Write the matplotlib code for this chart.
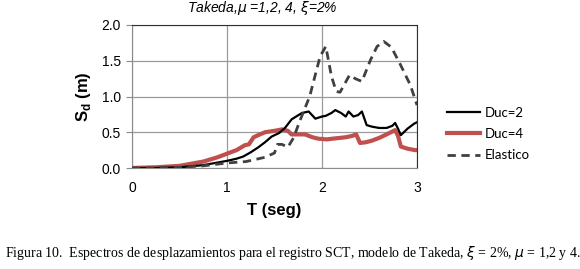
import matplotlib
matplotlib.use("Agg")
import matplotlib.pyplot as plt

# Data
t_el = [0, 0.25, 0.5, 0.75, 1.0, 1.2, 1.4, 1.5, 1.53, 1.58, 1.64, 1.7, 1.77, 1.87, 1.98, 2.04, 2.10, 2.15, 2.19, 2.24, 2.29, 2.35, 2.42, 2.51, 2.58, 2.65, 2.73, 2.82, 2.93, 3.0]
v_el = [0, 0.0, 0.01, 0.03, 0.07, 0.09, 0.15, 0.21, 0.33, 0.33, 0.29, 0.42, 0.67, 1.0, 1.56, 1.70, 1.28, 1.07, 1.06, 1.18, 1.30, 1.25, 1.21, 1.51, 1.70, 1.77, 1.69, 1.46, 1.16, 0.88]

t_d2 = [0, 0.25, 0.5, 0.75, 1.0, 1.1, 1.17, 1.25, 1.33, 1.4, 1.47, 1.55, 1.61, 1.68, 1.74, 1.79, 1.86, 1.93, 2.0, 2.04, 2.1, 2.14, 2.2, 2.25, 2.28, 2.33, 2.38, 2.42, 2.47, 2.52, 2.6, 2.68, 2.74, 2.77, 2.8, 2.83, 2.9, 2.97, 3.0]
v_d2 = [0, 0, 0.01, 0.04, 0.1, 0.13, 0.16, 0.22, 0.29, 0.36, 0.44, 0.49, 0.56, 0.68, 0.73, 0.77, 0.79, 0.69, 0.72, 0.73, 0.77, 0.81, 0.77, 0.72, 0.79, 0.72, 0.74, 0.79, 0.60, 0.58, 0.56, 0.56, 0.59, 0.63, 0.55, 0.46, 0.55, 0.62, 0.64]

t_d4 = [0, 0.25, 0.5, 0.75, 0.9, 1.0, 1.1, 1.19, 1.23, 1.28, 1.33, 1.40, 1.5, 1.58, 1.64, 1.68, 1.75, 1.82, 1.9, 1.96, 2.05, 2.11, 2.18, 2.25, 2.32, 2.36, 2.40, 2.46, 2.52, 2.6, 2.68, 2.74, 2.77, 2.8, 2.83, 2.9, 2.98, 3.0]
v_d4 = [0, 0.01, 0.03, 0.09, 0.15, 0.2, 0.25, 0.32, 0.33, 0.43, 0.46, 0.5, 0.52, 0.54, 0.52, 0.47, 0.47, 0.47, 0.43, 0.41, 0.40, 0.41, 0.42, 0.43, 0.45, 0.47, 0.35, 0.36, 0.38, 0.42, 0.47, 0.51, 0.53, 0.45, 0.30, 0.27, 0.25, 0.25]

xticks = [0, 1, 2, 3]
yticks = [0.0, 0.5, 1.0, 1.5, 2.0]

fig = plt.figure(figsize=(5.8, 2.69), dpi=100)
ax = fig.add_axes([132/580, 1-168/269, 285/580, 143/269])

ax.plot(t_d2, v_d2, color="black", lw=1.6, label="Duc=2", zorder=3)
ax.plot(t_d4, v_d4, color="#C0504D", lw=3.0, label="Duc=4", zorder=2)
ax.plot(t_el, v_el, color="#404040", lw=2.0, ls=(0, (3, 2)), label="Elastico", zorder=4)

ax.set_xlim(0, 3)
ax.set_ylim(0, 2)
ax.set_xticks(xticks)
ax.set_yticks(yticks)
ax.set_yticklabels([f"{v:.1f}" for v in yticks])
ax.grid(True, color="#9a9a9a", lw=0.9)
ax.set_axisbelow(True)
for s in ["left", "bottom"]:
    ax.spines[s].set_color("#8a8a8a")
for s in ["top", "right"]:
    ax.spines[s].set_color("#303030")
ax.tick_params(axis="both", direction="out", length=4, color="#8a8a8a",
               labelsize=10, pad=4)
for lab in ax.get_xticklabels() + ax.get_yticklabels():
    lab.set_fontfamily("Liberation Sans")
ax.tick_params(axis="x", length=0, pad=9)

ax.set_xlabel("T (seg)", fontfamily="Liberation Sans", fontweight="bold", fontsize=12, labelpad=6)
ax.set_ylabel(r"S$_\mathregular{d}$ (m)", fontfamily="Liberation Sans", fontweight="bold", fontsize=12, labelpad=6)

fig.text(262/580, 1-8/269, "Takeda,$\\mu$ =1,2, 4, $\\xi$=2%", ha="center", va="center",
         fontfamily="Liberation Sans", fontstyle="italic", fontsize=10)

leg = ax.legend(loc="center left", bbox_to_anchor=(1.062, 0.238), frameon=False,
                prop={"family": "Lato", "size": 9.5}, handlelength=2.5,
                handletextpad=0.38, labelspacing=0.7)

fig.text(5/580, 1-253/269,
         "Figura 10.  Espectros de desplazamientos para el registro SCT, modelo de Takeda, $\\xi$ = 2%, $\\mu$ = 1,2 y 4.",
         ha="left", va="center", fontfamily="Liberation Serif", fontsize=10)

fig.savefig("out.png", dpi=100)
